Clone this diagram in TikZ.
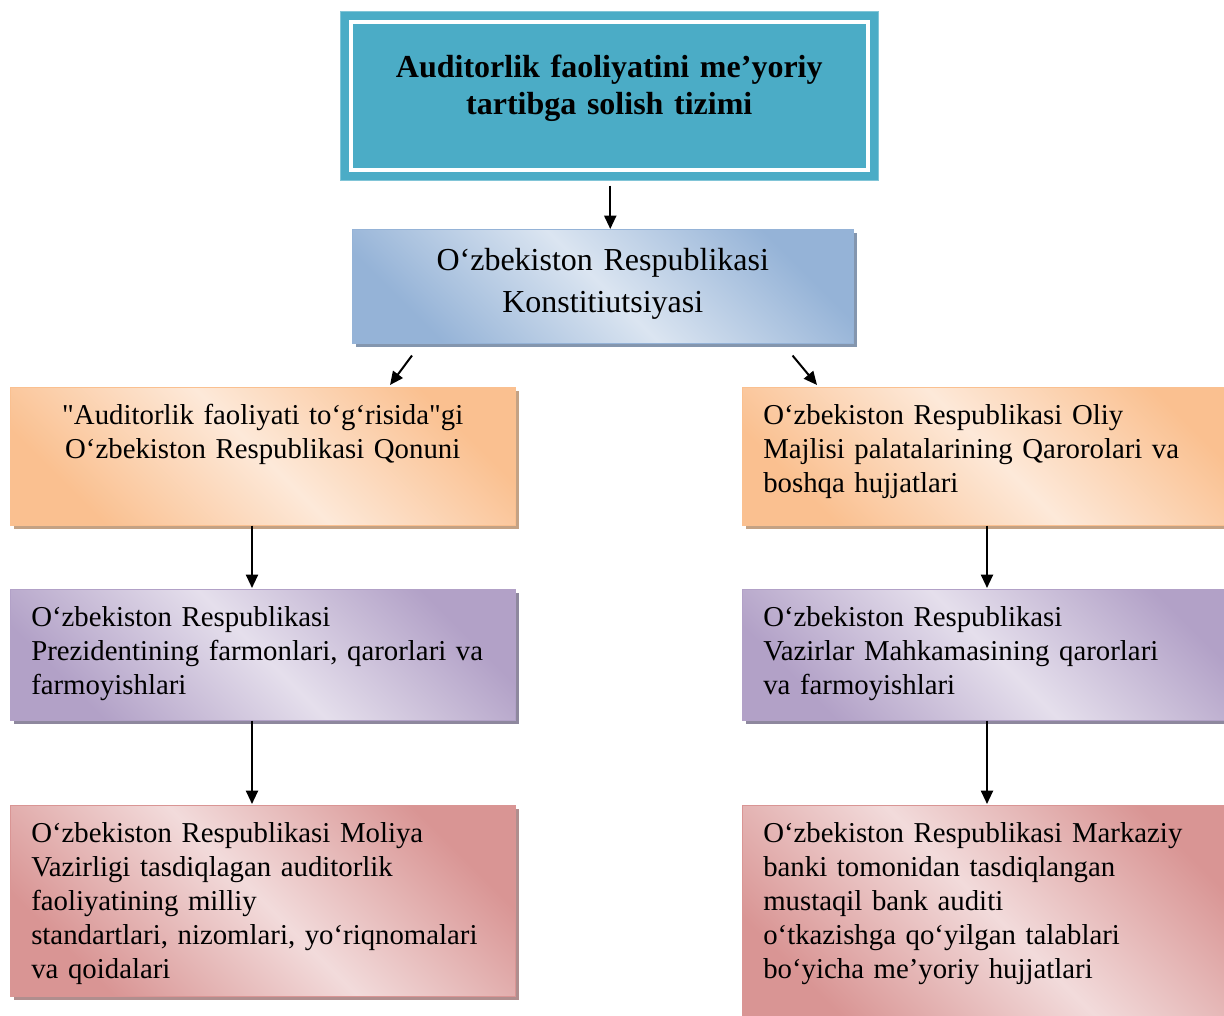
\documentclass[tikz,border=0pt]{standalone}
\usepackage{fontspec}
\setmainfont{Liberation Serif}
\usepackage{tikz}
\usetikzlibrary{positioning}
\usetikzlibrary{arrows.meta,shadows,calc}

\definecolor{titleteal}{HTML}{4BACC6}
\definecolor{blueD}{HTML}{95B3D7}
\definecolor{blueL}{HTML}{DBE5F1}
\definecolor{blueS}{HTML}{8496AE}
\definecolor{orangeD}{HTML}{FAC090}
\definecolor{orangeL}{HTML}{FDE9D9}
\definecolor{orangeS}{HTML}{C4A284}
\definecolor{purpleD}{HTML}{B2A1C7}
\definecolor{purpleL}{HTML}{E5DFEC}
\definecolor{purpleS}{HTML}{8E889E}
\definecolor{redD}{HTML}{D99594}
\definecolor{redL}{HTML}{F2DBDB}
\definecolor{redS}{HTML}{B08E8E}

\begin{document}
\begin{tikzpicture}[x=0.75pt, y=-0.75pt,
	arrow line/.style={line width=1.5pt, -{Triangle[length=10pt,width=9pt]}},
	law box/.style={rectangle, anchor=north west, inner xsep=15.75pt, inner ysep=0pt,
		minimum width=378.75pt, text width=347.25pt, align=left, text height=28pt,
		font=\fontsize{21.6}{25.5}\selectfont},
	shade box/.style 2 args={draw=#1D, top color=#1D, bottom color=#1D, middle color=#1L,
		shading angle=-45,
		drop shadow={shadow xshift=3pt, shadow yshift=-3pt, fill=#1S, opacity=1}},
	title box/.style={rectangle, anchor=north west, inner sep=0pt, fill=titleteal,
		draw=titleteal!70!white, minimum width=403.5pt, text width=403.5pt, align=center,
		text height=49.5pt, text depth=77.25pt, font=\bfseries\fontsize{24}{27.75}\selectfont}]
	\useasboundingbox (0,0) rectangle (1224,1016);
	\clip (0,0) rectangle (1224,1016);
	\fill[white] (0,0) rectangle (1224,1016);

	\node[title box] (tizim) at (340,11) {Auditorlik faoliyatini me’yoriy\\tartibga solish tizimi};
	\draw[white, line width=3pt] ($(tizim.north west)+(11,11)$) rectangle ($(tizim.south east)+(-11,-11)$);

	\node[law box, shade box={blue}{}, minimum width=375.75pt, text width=375.75pt, inner xsep=0pt,
		align=center, text height=30.75pt, text depth=54.75pt,
		font=\fontsize{24}{31.5}\selectfont] (konst) at (352,229)
		{O‘zbekiston Respublikasi\\Konstitiutsiyasi};

	\node[law box, shade box={orange}{}, align=center, text depth=75.5pt] (qonun) at (10,387)
		{\textquotedbl Auditorlik faoliyati to‘g‘risida\textquotedbl gi\\O‘zbekiston Respublikasi Qonuni};
	\node[law box, shade box={orange}{}, text depth=75.5pt] (majlis) at (742,387)
		{O‘zbekiston Respublikasi Oliy\\Majlisi palatalarining Qarorolari va\\boshqa hujjatlari};

	\node[law box, shade box={purple}{}, text depth=70.25pt] (prezident) at (10,589)
		{O‘zbekiston Respublikasi\\Prezidentining farmonlari, qarorlari va\\farmoyishlari};
	\node[law box, shade box={purple}{}, text depth=70.25pt] (vazirlar) at (742,589)
		{O‘zbekiston Respublikasi\\Vazirlar Mahkamasining qarorlari\\va farmoyishlari};

	\node[law box, shade box={red}{}, text depth=115.25pt] (moliya) at (10,805)
		{O‘zbekiston Respublikasi Moliya\\Vazirligi tasdiqlagan auditorlik\\faoliyatining milliy\\standartlari, nizomlari, yo‘riqnomalari\\va qoidalari};
	\node[law box, shade box={red}{}, text depth=137pt] (bank) at (742,805)
		{O‘zbekiston Respublikasi Markaziy\\banki tomonidan tasdiqlangan\\mustaqil bank auditi\\o‘tkazishga qo‘yilgan talablari\\bo‘yicha me’yoriy hujjatlari};

	% arrows
	\draw[arrow line] ($(tizim.south)+(1,5)$) -- ($(konst.north)+(7.5,0)$);
	\draw[arrow line] ($(konst.south west)+(60,12)$) -- ($(qonun.north west)+(380,-2)$);
	\draw[arrow line] ($(konst.south east)+(-61,12)$) -- ($(majlis.north west)+(75,-2)$);
	\foreach \a/\b/\dx in {qonun/prezident/242, prezident/moliya/242, majlis/vazirlar/245, vazirlar/bank/245}
		\draw[arrow line] ($(\a.south west)+(\dx,0)$) -- ($(\b.north west)+(\dx,-1)$);
\end{tikzpicture}
\end{document}
